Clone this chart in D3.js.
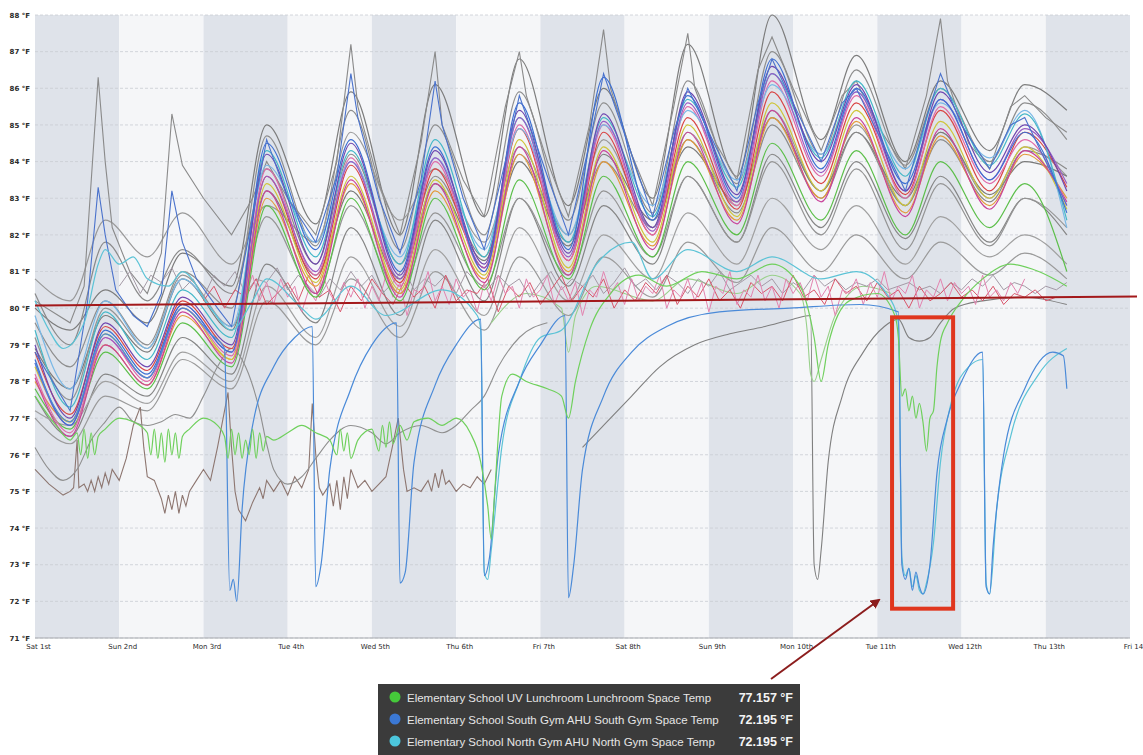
<!DOCTYPE html>
<html>
<head>
<meta charset="utf-8">
<script src="https://cdn.jsdelivr.net/npm/d3@7"></script>
<style>
  body { margin: 0; background: #fff; }
  .axis text { font-family: "DejaVu Sans", sans-serif; }
  .tip text { font-family: "Liberation Sans", Arial, sans-serif; }
</style>
</head>
<body>
<div id="chart"></div>
<script>
// temps in °F, hours counted from Sat 1st 00:00

let dayLabels = ["Sat 1st", "Sun 2nd", "Mon 3rd", "Tue 4th", "Wed 5th", "Thu 6th", "Fri 7th",
    "Sat 8th", "Sun 9th", "Mon 10th", "Tue 11th", "Wed 12th", "Thu 13th", "Fri 14"];
let yTicks = [71, 72, 73, 74, 75, 76, 77, 78, 79, 80, 81, 82, 83, 84, 85, 86, 87, 88];

// shared sample hours for the daily swinging space temps (morning lows / evening highs)
let swingHours = [0, 10, 20, 32, 42, 56, 66, 80, 90, 104, 114, 128, 138, 152, 162, 176, 186, 200, 210, 224, 234, 248, 258, 272, 282, 294];

let purpleTemp = [79.0, 77.0, 79.6, 78.4, 80.3, 79.0, 84.2, 81.2, 84.5, 80.9, 84.3, 81.2, 85.4, 81.5, 85.3, 82.2, 85.9, 83.1, 86.6, 84.0, 86.1, 83.2, 85.9, 83.7, 85.0, 83.2];
let blueTemp = [78.6, 76.8, 79.4, 78.2, 80.1, 78.8, 84.5, 81.6, 84.6, 81.0, 84.4, 81.0, 85.6, 81.6, 86.3, 82.4, 85.8, 83.0, 86.8, 83.8, 86.0, 83.4, 85.7, 83.5, 84.8, 82.6];
let pinkTemp = [78.2, 76.6, 79.2, 78.0, 80.0, 78.7, 83.8, 80.9, 84.1, 80.6, 84.0, 81.0, 85.0, 81.3, 85.0, 82.0, 85.5, 82.8, 86.2, 83.6, 85.8, 83.0, 85.5, 83.4, 84.6, 82.8];
let tealTemp = [79.4, 77.3, 79.9, 78.6, 80.5, 79.2, 84.3, 81.4, 84.3, 81.2, 84.6, 81.4, 85.2, 81.8, 85.2, 82.5, 85.7, 83.3, 86.4, 84.1, 86.2, 83.6, 86.0, 83.9, 85.3, 82.4];
let orangeTemp = [78.0, 76.9, 79.0, 77.9, 79.8, 78.6, 83.0, 80.6, 83.4, 80.4, 83.2, 80.8, 84.2, 81.0, 84.0, 81.7, 84.6, 82.4, 85.2, 83.0, 85.1, 82.6, 84.7, 82.8, 84.2, 83.0];
let greenTemp = [77.8, 76.7, 78.8, 77.8, 79.6, 78.4, 82.8, 80.3, 83.0, 80.2, 83.0, 80.5, 83.5, 80.8, 83.6, 81.4, 84.0, 82.0, 84.5, 82.4, 84.3, 82.0, 84.0, 82.2, 83.4, 81.0];
let yellowTemp = [78.4, 76.9, 79.3, 78.1, 80.0, 78.6, 83.4, 80.7, 83.6, 80.5, 83.5, 80.9, 84.6, 81.1, 84.4, 81.8, 85.0, 82.5, 85.6, 83.2, 85.4, 82.8, 85.1, 83.0, 84.4, 82.7];
let redTemp = [78.8, 77.1, 79.5, 78.3, 80.2, 78.9, 83.6, 80.8, 83.9, 80.7, 83.8, 81.1, 84.9, 81.3, 84.8, 82.0, 85.2, 82.7, 85.9, 83.4, 85.6, 83.1, 85.4, 83.2, 84.8, 83.3];
let skyTemp = [79.8, 77.8, 80.2, 78.9, 80.8, 79.5, 83.9, 81.8, 84.0, 81.4, 84.1, 81.6, 84.9, 82.0, 85.0, 82.8, 85.4, 83.5, 86.1, 84.2, 85.9, 83.8, 85.6, 84.1, 85.4, 82.2];
let violetTemp = [78.5, 76.8, 79.2, 78.1, 80.1, 78.8, 83.6, 81.0, 84.0, 80.8, 84.1, 81.1, 85.2, 81.4, 85.1, 82.1, 85.6, 82.9, 86.4, 83.7, 85.9, 83.2, 85.7, 83.5, 84.9, 83.4];
let magentaTemp = [78.1, 76.5, 79.0, 77.9, 79.9, 78.5, 83.2, 80.4, 83.5, 80.3, 83.4, 80.7, 84.4, 80.9, 84.3, 81.6, 84.8, 82.3, 85.4, 82.9, 85.2, 82.5, 84.9, 82.7, 84.3, 82.9];

let grayTempA = [80.0, 79.4, 80.5, 79.6, 81.5, 80.6, 85.0, 82.3, 85.9, 82.0, 86.1, 82.5, 86.8, 82.8, 86.0, 83.0, 87.2, 83.6, 88.0, 84.6, 86.9, 84.0, 86.2, 84.3, 86.1, 85.4];
let grayTempB = [79.6, 78.4, 80.2, 79.0, 81.0, 80.0, 84.7, 81.7, 85.4, 81.6, 85.0, 82.0, 85.9, 82.4, 85.6, 82.6, 86.2, 83.4, 87.0, 84.2, 86.5, 83.9, 86.0, 84.0, 85.6, 84.6];
let grayTempC = [80.8, 80.2, 82.4, 81.4, 82.6, 81.2, 82.8, 81.8, 84.8, 82.4, 83.8, 81.8, 84.4, 82.0, 84.6, 82.2, 84.8, 82.8, 85.4, 83.2, 85.0, 82.8, 84.8, 83.0, 84.4, 83.6];
let grayTempD = [77.6, 76.5, 78.2, 77.6, 79.2, 78.2, 81.2, 79.6, 82.2, 79.8, 82.4, 80.2, 83.0, 80.6, 82.8, 81.2, 83.6, 81.8, 84.2, 82.2, 84.0, 81.9, 83.6, 81.8, 83.0, 82.0];
let grayTempE = [77.2, 76.8, 78.0, 77.4, 78.8, 78.0, 80.6, 79.2, 81.4, 79.5, 81.6, 79.8, 82.2, 80.2, 82.0, 80.8, 82.6, 81.2, 83.0, 81.6, 82.8, 81.2, 82.5, 81.4, 82.0, 81.2];
let grayTempF = [78.9, 77.8, 79.8, 78.8, 80.8, 79.4, 83.2, 80.9, 83.2, 80.8, 83.4, 81.3, 84.0, 81.7, 84.2, 82.4, 84.4, 82.9, 85.2, 83.2, 84.8, 83.0, 84.8, 83.1, 84.0, 83.6];
let grayTempG = [79.2, 77.5, 80.0, 78.9, 80.9, 79.5, 82.5, 80.4, 82.8, 80.4, 82.6, 80.6, 83.0, 80.9, 83.2, 81.4, 83.6, 81.8, 84.0, 82.0, 83.8, 81.6, 83.4, 81.7, 83.0, 82.2];
let grayTempH = [80.4, 79.0, 81.8, 80.2, 81.6, 80.4, 83.8, 81.2, 84.2, 81.2, 83.6, 81.4, 84.2, 81.8, 84.0, 82.2, 84.6, 82.6, 85.0, 83.0, 84.8, 82.8, 84.6, 82.9, 84.3, 83.8];
let grayTempI = [77.0, 76.3, 77.6, 77.2, 78.6, 77.8, 80.2, 79.0, 80.8, 79.2, 81.0, 79.4, 81.4, 79.8, 81.4, 80.3, 81.8, 80.7, 82.2, 81.0, 82.0, 80.8, 81.8, 80.9, 81.5, 80.8];

// the gray sensor with sharp evening spikes, [hour, °F]
let spikyGray = [[0, 80.2], [10, 79.6], [14, 80.6], [18, 86.3], [20, 84.0], [22, 82.2], [27, 81.0], [32, 80.4], [36, 81.5],
    [39, 85.3], [42, 83.9], [48, 83.0], [56, 82.0], [62, 83.0], [66, 84.0], [72, 83.0], [80, 82.0], [86, 84.0], [90, 87.2],
    [92, 85.5], [98, 83.4], [104, 82.0], [110, 84.5], [114, 87.0], [116, 85.0], [122, 83.5], [128, 82.5], [134, 85.5],
    [138, 87.0], [140, 85.8], [146, 84.0], [152, 82.5], [158, 85.0], [162, 87.6], [164, 86.0], [170, 84.2], [176, 82.8],
    [182, 85.5], [186, 87.5], [188, 86.0], [194, 84.5], [200, 83.5], [206, 86.5], [210, 87.4], [216, 86.0], [224, 84.3],
    [230, 85.8], [234, 86.2], [240, 85.0], [248, 83.8], [254, 85.8], [258, 87.9], [260, 86.2], [266, 84.5], [272, 83.8],
    [278, 85.5], [282, 85.8], [288, 85.2], [294, 84.8]];
let spikyBlue = [[0, 78.8], [10, 77.2], [15, 80.2], [18, 83.3], [20, 82.0], [23, 80.5], [28, 79.8], [32, 79.5], [36, 80.4],
    [39, 83.2], [42, 81.8], [46, 80.8], [52, 80.0], [56, 79.5], [62, 82.5], [66, 84.6], [72, 83.0], [80, 81.8], [86, 83.6],
    [90, 86.4], [92, 85.2], [98, 83.0], [104, 81.5], [110, 83.5], [114, 86.2], [116, 85.0], [122, 83.0], [128, 81.6],
    [134, 84.0], [138, 85.8], [146, 83.6], [152, 82.0], [158, 84.5], [162, 86.4], [170, 84.2], [176, 82.5], [182, 84.8],
    [186, 86.0], [194, 84.4], [200, 83.2], [206, 85.6], [210, 86.8], [216, 85.6], [224, 84.0], [230, 85.6], [234, 86.0],
    [240, 84.8], [248, 83.2], [254, 85.2], [258, 86.4], [264, 85.0], [272, 83.8], [278, 85.0], [282, 85.2], [288, 84.0], [294, 82.8]];

// cycling sensors hovering round 80 °F
let pinkNoiseStart = 60, pinkNoiseStep = 2;
let pinkNoise = [80.4, 80.9, 80.2, 80.7, 80.1, 80.8, 80.3, 80.6, 79.9, 80.5, 80.2, 80.9, 80.4, 80.1, 80.7, 80.3, 80.8, 80.0, 80.6, 80.2,
    80.9, 80.3, 80.7, 79.8, 80.5, 80.4, 81.0, 80.2, 80.6, 80.1, 80.8, 80.3, 80.5, 79.9, 80.7, 80.2, 80.9, 80.4, 80.6, 80.0,
    80.8, 80.3, 80.5, 80.9, 80.1, 80.6, 80.2, 80.7, 79.8, 80.5, 80.3, 81.0, 80.4, 80.7, 80.1, 80.8, 80.2, 80.6, 80.4, 80.9,
    80.0, 80.5, 80.3, 80.8, 80.2, 80.7, 79.9, 80.6, 80.4, 81.0, 80.1, 80.5, 80.3, 80.9, 80.2, 80.6, 80.0, 80.8, 80.4, 80.7,
    80.2, 80.9, 80.3, 80.6, 79.8, 80.5, 80.4, 80.8, 80.1, 80.7, 80.3, 81.0, 80.2, 80.6, 80.4, 80.9, 80.0, 80.5, 80.3, 80.8,
    80.2, 80.7, 80.4, 80.6, 80.1, 80.9, 80.3, 80.5, 80.2, 80.7, 80.4, 80.8];
let redNoiseStart = 48, redNoiseStep = 3;
let redNoise = [80.2, 80.6, 80.0, 80.5, 80.3, 80.8, 80.1, 80.4, 80.7, 80.2, 80.9, 80.3, 80.5, 79.9, 80.6, 80.2, 80.8, 80.4, 80.1, 80.7,
    80.3, 80.6, 80.0, 80.9, 80.2, 80.5, 80.4, 80.8, 79.9, 80.6, 80.3, 80.7, 80.1, 80.5, 80.9, 80.2, 80.6, 80.3, 80.8, 80.0,
    80.5, 80.2, 80.7, 80.4, 80.9, 80.1, 80.6, 80.3, 80.8, 80.2, 80.5, 80.0, 80.7, 80.4, 80.6, 80.2, 80.9, 80.3, 80.5, 80.1,
    80.8, 80.4, 80.6, 80.2, 80.7, 80.3, 80.5, 80.0, 80.6, 80.2, 80.4, 80.7, 80.3, 80.5, 80.2, 80.6, 80.1, 80.4, 80.3, 80.5, 80.2, 80.3];
let grayNoiseStart = 24, grayNoiseStep = 3;
let grayNoise = [80.6, 81.0, 80.4, 80.9, 80.7, 81.1, 80.5, 80.8, 80.3, 80.9, 80.6, 81.0, 80.4, 80.8, 80.7, 81.1, 80.5, 80.9, 80.6, 80.3,
    80.8, 80.5, 81.0, 80.6, 80.9, 80.4, 80.7, 81.1, 80.5, 80.8, 80.6, 80.9, 80.4, 81.0, 80.7, 80.5, 80.9, 80.6, 80.8, 80.3,
    80.7, 81.0, 80.5, 80.8, 80.6, 80.9, 80.4, 80.7, 81.1, 80.6, 80.8, 80.5, 80.9, 80.7, 80.4, 80.8, 80.6, 81.0, 80.5, 80.7,
    80.9, 80.6, 80.8, 80.4, 80.7, 80.5, 80.9, 80.6, 80.8, 80.5, 80.7, 80.6, 80.8, 80.5, 80.6, 80.7, 80.5, 80.6, 80.4,
    80.7, 80.5, 80.8, 80.6, 80.9, 80.5, 80.7, 80.6, 80.4, 80.6, 80.5, 80.7];

// the three highlighted sensors
let lunchroomTemp = [[0, 77.6], [6, 76.8], [10, 76.4], [12, 76.6], [13, 76.0], [14, 76.7], [15, 75.9], [16, 76.6], [17, 76.0], [18, 76.5],
    [20, 76.7], [24, 77.0], [28, 76.9], [32, 76.6], [33, 76.0], [34, 76.7], [35, 75.9], [36, 76.6], [37, 75.8], [38, 76.7], [39, 76.0],
    [40, 76.6], [41, 75.9], [42, 76.5], [44, 76.7], [48, 77.0], [52, 76.8], [54, 76.5], [55, 75.9], [56, 76.7], [57, 76.0], [58, 76.6],
    [59, 75.9], [60, 76.4], [61, 76.0], [62, 76.7], [63, 75.9], [64, 76.6], [65, 76.1], [66, 76.5], [68, 76.4], [72, 76.6], [76, 76.8],
    [80, 76.6], [84, 76.4], [86, 76.0], [87, 76.7], [88, 76.1], [89, 76.6], [90, 75.9], [92, 76.4], [96, 76.7], [98, 76.1], [99, 76.8],
    [100, 76.2], [101, 76.9], [102, 76.3], [104, 76.8], [106, 76.4], [108, 76.9], [112, 77.0], [116, 76.8], [118, 76.9], [120, 77.0],
    [124, 76.6], [127, 75.8], [129, 74.6], [130, 73.7], [131, 75.0], [133, 77.6], [136, 78.2], [140, 78.0], [146, 77.8], [150, 77.6],
    [152, 77.0], [154, 78.0], [158, 79.4], [164, 80.4], [172, 80.9], [180, 80.6], [190, 81.0], [200, 80.8], [210, 81.2], [218, 80.6],
    [222, 79.2], [224, 78.0], [226, 79.0], [232, 80.2], [240, 80.4], [245, 79.8], [246, 79.2], [247, 77.6], [248, 77.8], [249, 77.2],
    [250, 77.6], [251, 77.0], [252, 77.4], [253, 76.9], [254, 76.1], [255, 77.0], [256, 77.2], [257, 78.4], [258, 79.1], [260, 79.6],
    [264, 80.2], [270, 80.8], [278, 81.2], [286, 81.0], [294, 80.6]];
let southGymTemp = [[0, 78.5], [10, 76.9], [20, 79.3], [32, 78.1], [42, 80.0], [50, 79.3], [54, 78.9], [55.5, 72.3], [56.5, 72.6],
    [57.5, 72.0], [59, 74.5], [62, 76.8], [68, 78.4], [74, 79.2], [79, 79.5], [80, 72.4], [81.5, 73.0], [84, 75.6], [90, 77.8],
    [96, 79.0], [103, 79.6], [104, 72.5], [105.5, 72.8], [108, 75.8], [114, 77.9], [120, 79.0], [127, 79.7], [128, 72.7],
    [129.5, 73.2], [132, 76.0], [138, 78.0], [144, 79.0], [151, 79.8], [152, 72.1], [153.5, 73.0], [156, 75.6], [162, 77.6],
    [170, 78.8], [180, 79.5], [195, 79.9], [215, 80.0], [235, 80.1], [246, 79.9], [247, 73.0], [248, 72.6], [249, 72.9],
    [250, 72.3], [251, 72.8], [252, 72.4], [253, 72.2], [255, 73.0], [257, 75.5], [260, 77.0], [264, 78.0], [270, 78.8],
    [271, 72.4], [272, 72.2], [273, 73.5], [276, 76.0], [282, 77.8], [290, 78.8], [293, 78.7], [294, 77.8]];
let northGymTemp = [[0, 80.2], [4, 79.4], [8, 78.9], [14, 79.6], [18, 81.2], [20, 81.6], [24, 81.2], [28, 81.4], [32, 80.8],
    [38, 80.6], [42, 81.0], [50, 80.0], [56, 79.4], [62, 80.2], [66, 80.8], [76, 80.0], [80, 79.7], [90, 80.6], [100, 79.8],
    [116, 80.5], [126, 79.8], [127, 79.4], [128, 72.8], [129, 72.6], [130, 73.4], [133, 76.2], [138, 78.0], [144, 79.2],
    [150, 79.4], [160, 81.2], [170, 81.8], [176, 80.8], [186, 81.6], [200, 81.0], [210, 81.4], [224, 80.8], [234, 81.0],
    [244, 80.2], [246, 79.6], [247, 73.2], [248, 72.7], [249, 72.9], [250, 72.4], [251, 72.7], [252, 72.3], [253, 72.2],
    [254, 72.5], [256, 73.6], [258, 75.8], [261, 77.4], [266, 78.4], [270, 78.6], [271, 72.5], [272, 72.2], [274, 74.5],
    [278, 76.5], [286, 78.2], [294, 78.9]];

// other low sensors
let brownTemp = [[0, 75.6], [4, 75.2], [8, 74.9], [10, 75.0], [11, 75.1], [12, 76.4], [12.5, 75.1], [14, 75.2], [15, 75.0], [16, 75.3],
    [17, 75.0], [18, 75.4], [19, 75.1], [20, 75.5], [21, 75.2], [22, 75.6], [24, 75.3], [26, 75.9], [28, 76.8], [30, 77.3], [31, 76.2],
    [32, 75.4], [34, 75.3], [36, 74.8], [37, 74.4], [38, 74.9], [39, 74.5], [40, 75.0], [41, 74.4], [42, 74.9], [43, 74.6], [44, 75.0],
    [46, 75.3], [48, 75.6], [50, 75.3], [52, 76.2], [54, 77.2], [55, 77.7], [56, 76.2], [57, 75.0], [58, 74.5], [60, 74.2], [62, 74.7],
    [64, 75.1], [65, 74.8], [66, 75.3], [68, 75.0], [70, 75.3], [72, 74.9], [74, 75.4], [76, 75.1], [78, 75.6], [79, 77.4], [80, 76.0],
    [81, 75.1], [82, 74.9], [84, 75.2], [85, 74.6], [86, 75.3], [87, 74.5], [88, 75.4], [89, 74.8], [90, 75.6], [92, 75.1], [94, 75.3],
    [96, 75.0], [98, 75.2], [100, 75.4], [102, 76.3], [103.5, 77.0], [105, 75.6], [106, 75.0], [108, 75.1], [110, 75.0], [112, 75.3],
    [113, 75.0], [114, 75.5], [115, 75.1], [116, 75.6], [117, 75.2], [118, 75.3], [120, 75.0], [122, 75.2], [124, 75.1], [126, 75.4],
    [128, 75.2], [130, 75.6]];
let slowGray = [[0, 76.2], [4, 75.6], [8, 75.3], [12, 75.6], [16, 76.4], [20, 76.9], [24, 77.3], [28, 76.9], [32, 76.8], [36, 76.9],
    [40, 77.1], [44, 77.0], [48, 77.6], [52, 78.4], [56, 78.9], [60, 78.4], [64, 77.2], [66, 76.3], [68, 75.6], [72, 75.2], [76, 75.4],
    [80, 75.9], [84, 76.4], [90, 76.8], [96, 76.6], [100, 76.3], [104, 76.6], [110, 76.8], [116, 76.6], [120, 76.8], [124, 77.2],
    [128, 77.6], [132, 78.4], [138, 79.2], [146, 79.6]];
let mondayGray = [[156, 76.2], [162, 76.8], [170, 77.6], [178, 78.4], [188, 79.0], [198, 79.3], [208, 79.5], [216, 79.7], [221, 79.8],
    [222, 73.0], [223, 72.6], [224, 73.4], [226, 75.8], [230, 77.6], [236, 78.8], [242, 79.5], [246, 79.7], [249, 79.2], [252, 79.1],
    [255, 79.2], [258, 79.6], [262, 80.0], [270, 80.2], [282, 80.3], [294, 80.1]];
let paleGreen = [[130, 79.6], [140, 80.4], [150, 80.0], [152, 78.8], [154, 79.8], [160, 80.6], [176, 80.2], [186, 80.8], [200, 80.4],
    [210, 80.9], [218, 80.4], [220, 79.4], [221, 78.2], [222, 78.0], [224, 78.6], [228, 79.8], [236, 80.6], [244, 80.4]];

// setpoint line drawn over the chart
let setpointLine = [[0, 80.07], [314, 80.32]];

let legendNames = ["Elementary School UV Lunchroom Lunchroom Space Temp",
    "Elementary School South Gym AHU South Gym Space Temp",
    "Elementary School North Gym AHU North Gym Space Temp"];
let legendValues = ["77.157 °F", "72.195 °F", "72.195 °F"];
let legendColors = ["#45c93a", "#3b78d4", "#4cc6dc"];

// highlight box limits: [hour, °F]
let boxFrom = [244.2, 79.75], boxTo = [261.6, 71.8];

let width = 1143, height = 755;
let svg = d3.select("#chart").append("svg")
    .attr("width", width)
    .attr("height", height);

let x = d3.scaleLinear().domain([0, 312]).range([35, 1130]);
let y = d3.scaleLinear().domain([71, 88]).range([638, 15]);

// alternating day shading
svg.append("g").selectAll("rect")
    .data(dayLabels.slice(0, 13))
    .enter().append("rect")
    .attr("x", (d, i) => x(i * 24))
    .attr("y", y(88))
    .attr("width", x(24) - x(0))
    .attr("height", y(71) - y(88))
    .attr("fill", (d, i) => i % 2 === 0 ? "#dfe3ea" : "#f5f6f8");

svg.append("g").selectAll("line")
    .data(yTicks)
    .enter().append("line")
    .attr("x1", x(0)).attr("x2", x(312))
    .attr("y1", d => y(d)).attr("y2", d => y(d))
    .attr("stroke", "#c9cdd3")
    .attr("stroke-width", 0.8)
    .attr("stroke-dasharray", "3,2");

svg.append("line")
    .attr("x1", x(0)).attr("x2", x(312))
    .attr("y1", y(71)).attr("y2", y(71))
    .attr("stroke", "#a8abb0");

// axes
let yAxis = d3.axisLeft(y).tickValues(yTicks).tickSize(0).tickPadding(5)
    .tickFormat(d => d + " °F");
svg.append("g")
    .attr("class", "axis")
    .attr("transform", "translate(" + x(0) + ",0)")
    .call(yAxis)
    .call(g => g.select(".domain").remove())
    .selectAll("text")
    .attr("font-size", 7)
    .attr("font-weight", "bold")
    .attr("fill", "#2a2a2a");

let xAxis = d3.axisBottom(x).tickValues(dayLabels.map((d, i) => i * 24)).tickSize(0).tickPadding(6)
    .tickFormat((d, i) => dayLabels[i]);
svg.append("g")
    .attr("class", "axis")
    .attr("transform", "translate(3," + y(71) + ")")
    .call(xAxis)
    .call(g => g.select(".domain").remove())
    .selectAll("text")
    .attr("font-size", 7)
    .attr("fill", "#2a2a2a");

let smooth = d3.line().x(d => x(d[0])).y(d => y(d[1])).curve(d3.curveMonotoneX);
let straight = d3.line().x(d => x(d[0])).y(d => y(d[1]));

function onGrid(values) {
    return values.map((v, i) => [swingHours[i], v]);
}

function regular(values, start, step) {
    return values.map((v, i) => [start + i * step, v]);
}

let grayRuns = [grayTempA, grayTempB, grayTempC, grayTempD, grayTempE, grayTempF, grayTempG, grayTempH, grayTempI];
let grayShades = ["#7c7c7c", "#8e8e8e", "#999", "#858585", "#a0a0a0", "#7a7a7a", "#949494", "#8a8a8a", "#9a9a9a"];

svg.append("g").selectAll("path")
    .data(grayRuns)
    .enter().append("path")
    .attr("d", d => smooth(onGrid(d)))
    .attr("fill", "none")
    .attr("stroke", (d, i) => grayShades[i])
    .attr("stroke-width", 1.2);

let lowLines = [
    {pts: brownTemp, color: "#8d7670", curve: straight},
    {pts: slowGray, color: "#8f8f8f", curve: smooth},
    {pts: mondayGray, color: "#7f7f7f", curve: smooth},
    {pts: paleGreen, color: "#98d08a", curve: smooth},
    {pts: spikyGray, color: "#8a8a8a", curve: straight}
];
svg.append("g").selectAll("path")
    .data(lowLines)
    .enter().append("path")
    .attr("d", d => d.curve(d.pts))
    .attr("fill", "none")
    .attr("stroke", d => d.color)
    .attr("stroke-width", 1.1);

// noisy cyclers
let noiseLines = [
    {pts: regular(grayNoise, grayNoiseStart, grayNoiseStep), color: "#a49aa6"},
    {pts: regular(redNoise, redNoiseStart, redNoiseStep), color: "#d9566b"},
    {pts: regular(pinkNoise, pinkNoiseStart, pinkNoiseStep), color: "#e384b0"}
];
svg.append("g").selectAll("path")
    .data(noiseLines)
    .enter().append("path")
    .attr("d", d => straight(d.pts))
    .attr("fill", "none")
    .attr("stroke", d => d.color)
    .attr("stroke-width", 1);

let colorRuns = [orangeTemp, greenTemp, yellowTemp, magentaTemp, redTemp, pinkTemp, skyTemp, tealTemp, violetTemp, blueTemp, purpleTemp];
let colorShades = ["#e39a3a", "#5cbf4a", "#cfc53a", "#c9439a", "#d94444", "#e06aa8", "#7ab8e6", "#45b8c8", "#9a5cc4", "#3c6fd2", "#6f47b0"];

svg.append("g").selectAll("path")
    .data(colorRuns)
    .enter().append("path")
    .attr("d", d => smooth(onGrid(d)))
    .attr("fill", "none")
    .attr("stroke", (d, i) => colorShades[i])
    .attr("stroke-width", 1.2);

svg.append("path")
    .attr("d", straight(spikyBlue))
    .attr("fill", "none")
    .attr("stroke", "#4a72cc")
    .attr("stroke-width", 1.1);

let featured = [
    {pts: northGymTemp, color: "#5cc3d6"},
    {pts: southGymTemp, color: "#4a8ad8"},
    {pts: lunchroomTemp, color: "#6fd05c"}
];
svg.append("g").selectAll("path")
    .data(featured)
    .enter().append("path")
    .attr("d", d => smooth(d.pts))
    .attr("fill", "none")
    .attr("stroke", d => d.color)
    .attr("stroke-width", 1.2);

// setpoint
svg.append("path")
    .attr("d", straight(setpointLine))
    .attr("fill", "none")
    .attr("stroke", "#a3191b")
    .attr("stroke-width", 2);

// red highlight box
svg.append("rect")
    .attr("x", x(boxFrom[0]))
    .attr("y", y(boxFrom[1]))
    .attr("width", x(boxTo[0]) - x(boxFrom[0]))
    .attr("height", y(boxTo[1]) - y(boxFrom[1]))
    .attr("fill", "none")
    .attr("stroke", "#e0361e")
    .attr("stroke-width", 4);

// arrow from tooltip to the box
svg.append("defs").append("marker")
    .attr("id", "head")
    .attr("viewBox", "0 0 10 10")
    .attr("refX", 8).attr("refY", 5)
    .attr("markerWidth", 5).attr("markerHeight", 5)
    .attr("orient", "auto")
    .append("path")
    .attr("d", "M0,0 L10,5 L0,10 z")
    .attr("fill", "#8c1d1d");

svg.append("line")
    .attr("x1", 771).attr("y1", 679)
    .attr("x2", 879).attr("y2", 600)
    .attr("stroke", "#8c1d1d")
    .attr("stroke-width", 2)
    .attr("marker-end", "url(#head)");

// tooltip legend
let legend = svg.append("g").attr("class", "tip").attr("transform", "translate(378,684)");
legend.append("rect")
    .attr("width", 422).attr("height", 71)
    .attr("fill", "#3b3b3b");

let rows = legend.selectAll("g.row")
    .data(legendNames)
    .enter().append("g")
    .attr("class", "row")
    .attr("transform", (d, i) => "translate(0," + (13 + i * 22) + ")");

rows.append("circle")
    .attr("cx", 17).attr("cy", 0).attr("r", 5.5)
    .attr("fill", (d, i) => legendColors[i]);

rows.append("text")
    .attr("x", 29).attr("y", 4.5)
    .attr("font-size", 11.5)
    .attr("fill", "#e6e6e6")
    .text(d => d);

rows.append("text")
    .attr("x", 415).attr("y", 4.5)
    .attr("text-anchor", "end")
    .attr("font-size", 12.5)
    .attr("font-weight", "bold")
    .attr("fill", "#f4f4f4")
    .text((d, i) => legendValues[i]);
</script>
</body>
</html>
